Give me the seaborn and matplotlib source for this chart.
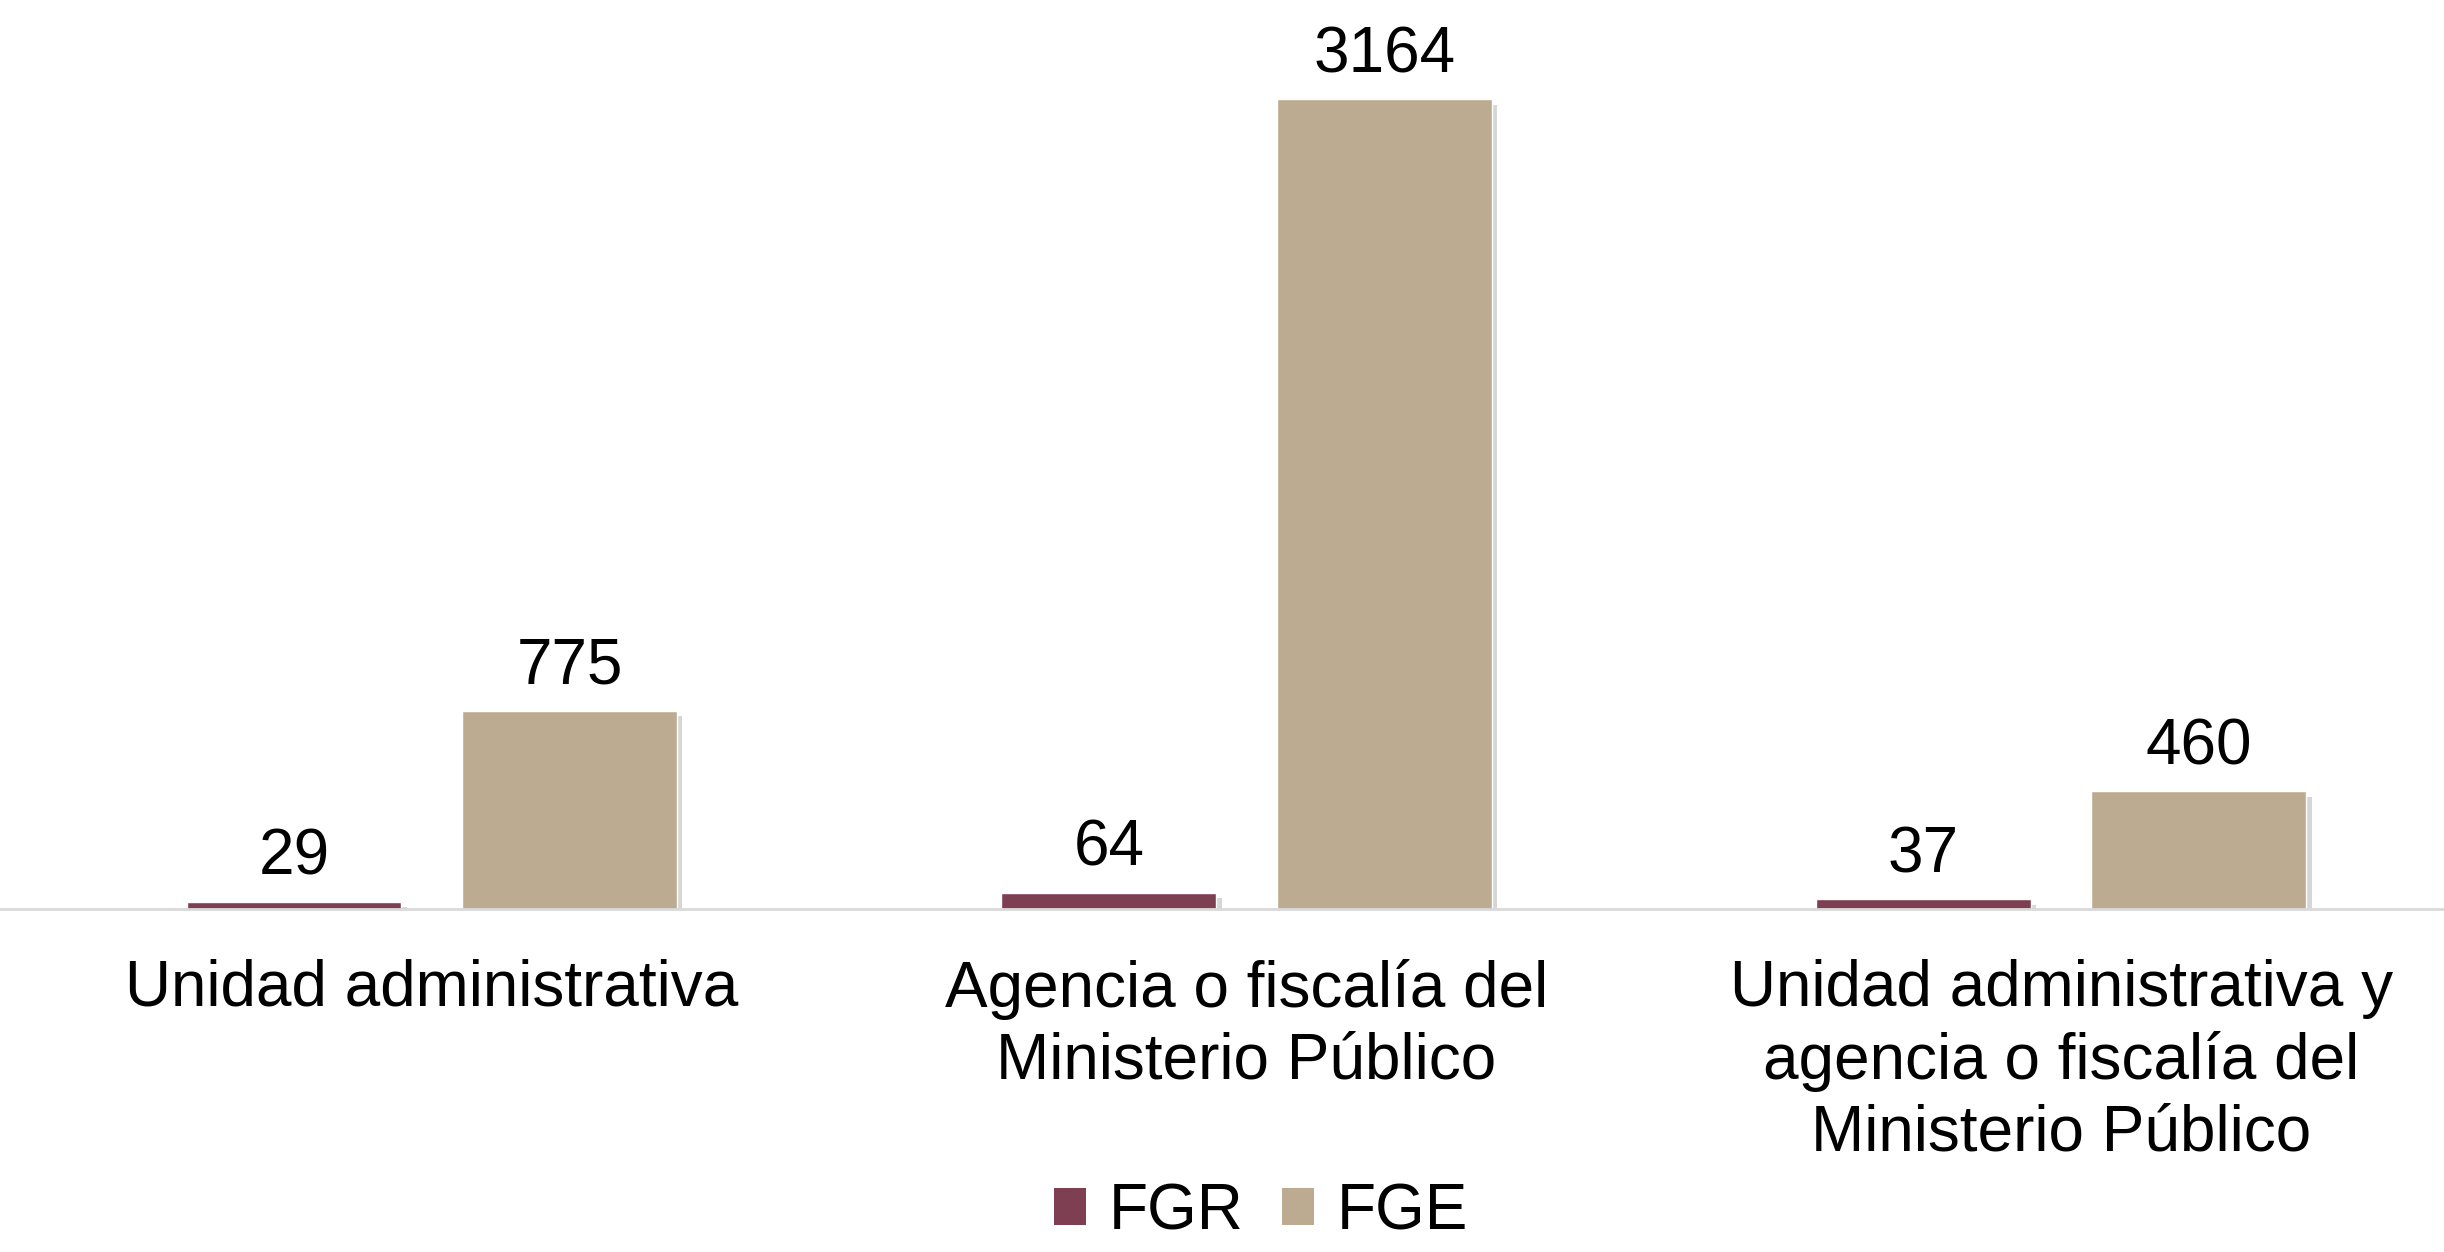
import pandas as pd
import numpy as np
import seaborn as sns
import matplotlib.pyplot as plt
import matplotlib.patheffects as pe
from matplotlib.patches import Patch

categorias = ['Unidad administrativa',
              'Agencia o fiscalía del\nMinisterio Público',
              'Unidad administrativa y\nagencia o fiscalía del\nMinisterio Público']
fgr = [29, 64, 37]
fge = [775, 3164, 460]
series = ['FGR', 'FGE']
colores = ['#7F3F52', '#BCAB90']

df = pd.DataFrame({
    'categoria': categorias * 2,
    'valor': fgr + fge,
    'serie': ['FGR'] * 3 + ['FGE'] * 3,
})

sns.set_style('white')
plt.rcParams['font.family'] = ['Liberation Sans', 'DejaVu Sans']

fig = plt.figure(figsize=(24.44, 12.52), dpi=100)
ax = fig.add_axes([0.0, 0.274, 1.0, 0.70])

sns.barplot(data=df, x='categoria', y='valor', hue='serie', order=categorias,
            hue_order=series, palette=colores, width=0.676, gap=0.22,
            saturation=1, legend=False, ax=ax, errorbar=None)

shadow = [pe.SimplePatchShadow(offset=(4, -4), shadow_rgbFace='#999999', alpha=0.4),
          pe.Normal()]
for bar in ax.patches:
    bar.set_path_effects(shadow)
    h = bar.get_height()
    ax.annotate(f'{int(round(h))}', (bar.get_x() + bar.get_width() / 2, h),
                xytext=(0, 10), textcoords='offset points',
                ha='center', va='bottom', fontsize=46, color='black')

ax.set_xlim(-0.53, 2.47)
ax.set_ylim(0, 3425)
ax.set_xlabel('')
ax.set_ylabel('')
ax.set_yticks([])
for s in ['top', 'right', 'left']:
    ax.spines[s].set_visible(False)
ax.spines['bottom'].set_color('#D9D9D9')
ax.spines['bottom'].set_linewidth(2)
ax.tick_params(axis='x', length=0, pad=36, labelsize=46, labelcolor='black')
for lbl in ax.get_xticklabels():
    lbl.set_linespacing(1.25)
    lbl.set_ha('center')

handles = [Patch(facecolor=c, edgecolor='none') for c in colores]
fig.legend(handles, series, loc='lower center', bbox_to_anchor=(0.516, -0.038),
           ncol=2, frameon=False, fontsize=46, handlelength=0.5, handleheight=0.5,
           handletextpad=0.36, columnspacing=0.6, labelcolor='black')

fig.savefig('out.png', dpi=100)
